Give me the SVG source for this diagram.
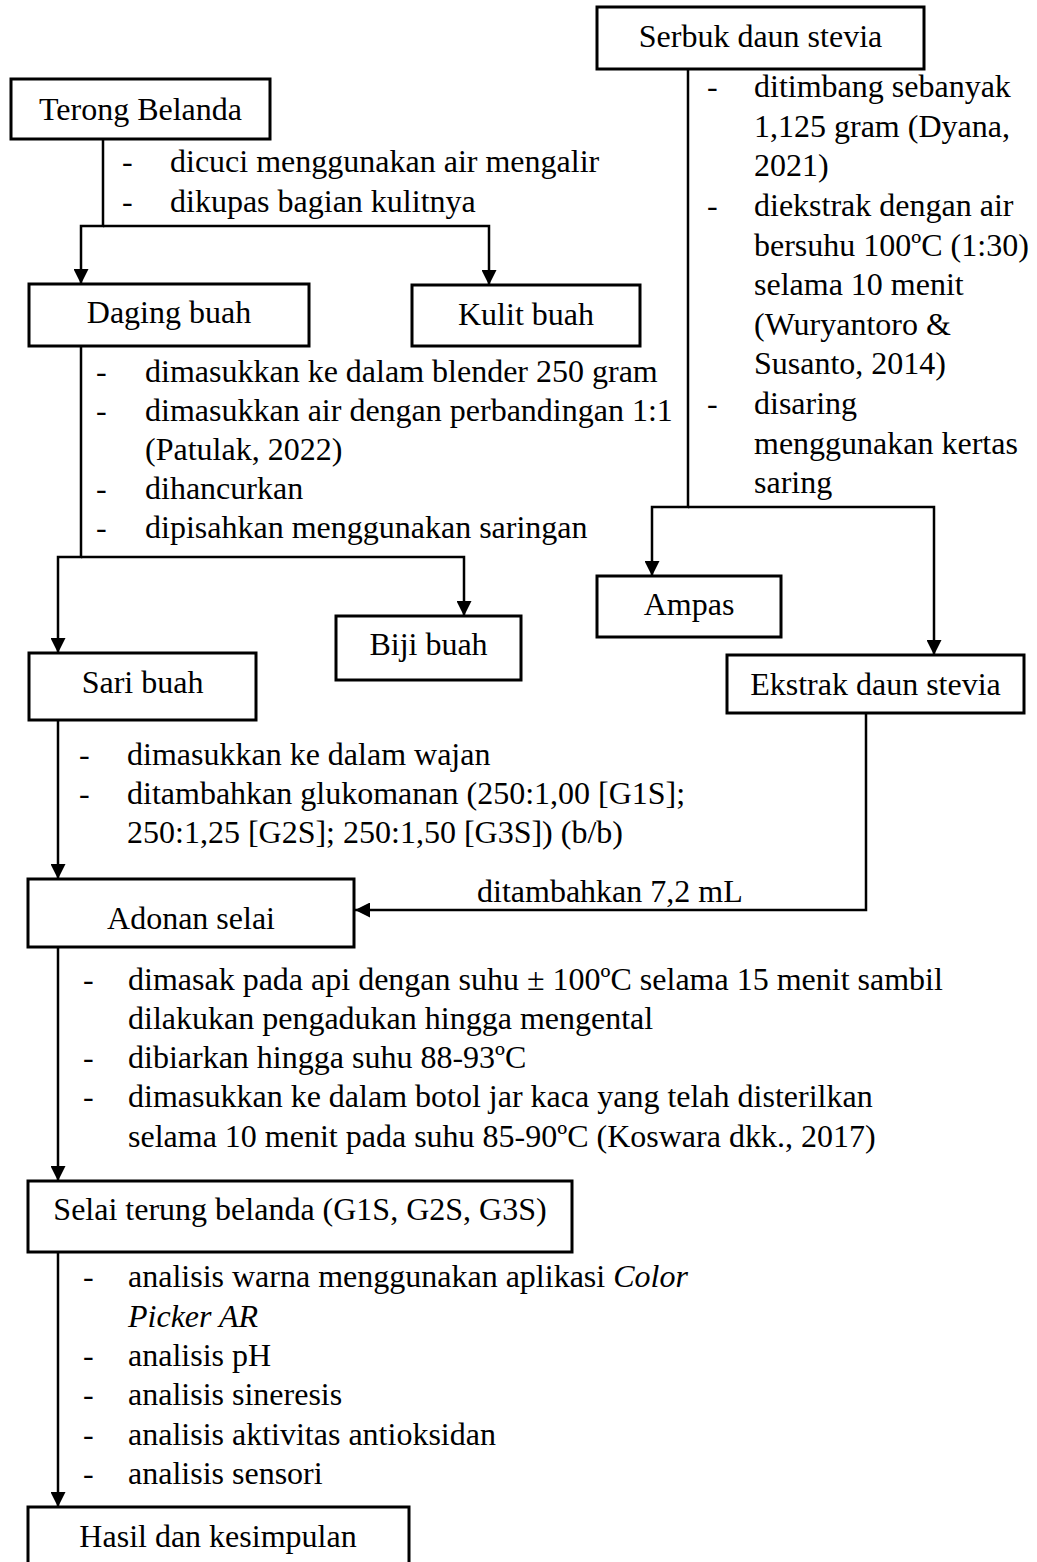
<svg xmlns="http://www.w3.org/2000/svg" width="1037" height="1562" viewBox="0 0 1037 1562">
<defs>
<style>
.box{fill:#fff;stroke:#000;stroke-width:3}
.ln{fill:none;stroke:#000;stroke-width:2.5;marker-end:url(#ah)}
text{font-family:"Liberation Serif","Times New Roman",serif;font-size:32px;fill:#000}
.c{text-anchor:middle}
</style>
<marker id="ah" viewBox="0 0 10 10" refX="10" refY="5" markerWidth="15" markerHeight="15" markerUnits="userSpaceOnUse" orient="auto">
<path d="M0,0 L10,5 L0,10 z" fill="#000"/>
</marker>
</defs>
<rect width="1037" height="1562" fill="#fff"/>

<g id="connectors">
<path class="ln" d="M103,139 V226 H81 V284"/>
<path class="ln" d="M103,226 H489 V285"/>
<path class="ln" d="M81,346 V557 H58 V653"/>
<path class="ln" d="M81,557 H464 V616"/>
<path class="ln" d="M688,69 V507 H652 V576"/>
<path class="ln" d="M688,507 H934 V655"/>
<path class="ln" d="M58,720 V879"/>
<path class="ln" d="M866,713 V910 H355"/>
<path class="ln" d="M58,947 V1181"/>
<path class="ln" d="M58,1252 V1507"/>
<text x="477" y="902">ditambahkan 7,2 mL</text>
</g>

<g id="serbuk">
<rect class="box" x="597" y="7" width="327" height="62"/>
<text class="c" x="760.5" y="47">Serbuk daun stevia</text>
</g>
<g id="steps-serbuk">
<text x="707" y="97">-</text>
<text x="754" y="97">ditimbang sebanyak</text>
<text x="754" y="137">1,125 gram (Dyana,</text>
<text x="754" y="176">2021)</text>
<text x="707" y="216">-</text>
<text x="754" y="216">diekstrak dengan air</text>
<text x="754" y="256">bersuhu 100ºC (1:30)</text>
<text x="754" y="295">selama 10 menit</text>
<text x="754" y="335">(Wuryantoro &amp;</text>
<text x="754" y="374">Susanto, 2014)</text>
<text x="707" y="414">-</text>
<text x="754" y="414">disaring</text>
<text x="754" y="454">menggunakan kertas</text>
<text x="754" y="493">saring</text>
</g>

<g id="terong">
<rect class="box" x="11" y="79" width="259" height="60"/>
<text class="c" x="140.5" y="120">Terong Belanda</text>
</g>
<g id="steps-terong">
<text x="122" y="172">-</text>
<text x="170" y="172">dicuci menggunakan air mengalir</text>
<text x="122" y="212">-</text>
<text x="170" y="212">dikupas bagian kulitnya</text>
</g>

<g id="daging">
<rect class="box" x="29" y="284" width="280" height="62"/>
<text class="c" x="169" y="323">Daging buah</text>
</g>
<g id="kulit">
<rect class="box" x="412" y="285" width="228" height="61"/>
<text class="c" x="526" y="325">Kulit buah</text>
</g>
<g id="steps-daging">
<text x="96" y="382">-</text>
<text x="145" y="382">dimasukkan ke dalam blender 250 gram</text>
<text x="96" y="421">-</text>
<text x="145" y="421">dimasukkan air dengan perbandingan 1:1</text>
<text x="145" y="460">(Patulak, 2022)</text>
<text x="96" y="499">-</text>
<text x="145" y="499">dihancurkan</text>
<text x="96" y="538">-</text>
<text x="145" y="538">dipisahkan menggunakan saringan</text>
</g>

<g id="biji">
<rect class="box" x="336" y="616" width="185" height="64"/>
<text class="c" x="428.5" y="655">Biji buah</text>
</g>
<g id="sari">
<rect class="box" x="29" y="653" width="227" height="67"/>
<text class="c" x="142.5" y="693">Sari buah</text>
</g>
<g id="ampas">
<rect class="box" x="597" y="576" width="184" height="61"/>
<text class="c" x="689" y="615">Ampas</text>
</g>
<g id="ekstrak">
<rect class="box" x="727" y="655" width="297" height="58"/>
<text class="c" x="875.5" y="695">Ekstrak daun stevia</text>
</g>

<g id="steps-sari">
<text x="79" y="765">-</text>
<text x="127" y="765">dimasukkan ke dalam wajan</text>
<text x="79" y="804">-</text>
<text x="127" y="804">ditambahkan glukomanan (250:1,00 [G1S];</text>
<text x="127" y="843">250:1,25 [G2S]; 250:1,50 [G3S]) (b/b)</text>
</g>

<g id="adonan">
<rect class="box" x="28" y="879" width="326" height="68"/>
<text class="c" x="191" y="929">Adonan selai</text>
</g>
<g id="steps-adonan">
<text x="83" y="990">-</text>
<text x="128" y="990">dimasak pada api dengan suhu ± 100ºC selama 15 menit sambil</text>
<text x="128" y="1029">dilakukan pengadukan hingga mengental</text>
<text x="83" y="1068">-</text>
<text x="128" y="1068">dibiarkan hingga suhu 88-93ºC</text>
<text x="83" y="1107">-</text>
<text x="128" y="1107">dimasukkan ke dalam botol jar kaca yang telah disterilkan</text>
<text x="128" y="1147">selama 10 menit pada suhu 85-90ºC (Koswara dkk., 2017)</text>
</g>

<g id="selai">
<rect class="box" x="28" y="1181" width="544" height="71"/>
<text class="c" x="300" y="1220">Selai terung belanda (G1S, G2S, G3S)</text>
</g>
<g id="steps-selai">
<text x="83" y="1287">-</text>
<text x="128" y="1287">analisis warna menggunakan aplikasi <tspan font-style="italic">Color</tspan></text>
<text x="128" y="1327" font-style="italic">Picker AR</text>
<text x="83" y="1366">-</text>
<text x="128" y="1366">analisis pH</text>
<text x="83" y="1405">-</text>
<text x="128" y="1405">analisis sineresis</text>
<text x="83" y="1445">-</text>
<text x="128" y="1445">analisis aktivitas antioksidan</text>
<text x="83" y="1484">-</text>
<text x="128" y="1484">analisis sensori</text>
</g>

<g id="hasil">
<rect class="box" x="28" y="1507" width="381" height="70"/>
<text class="c" x="218" y="1547">Hasil dan kesimpulan</text>
</g>
</svg>
